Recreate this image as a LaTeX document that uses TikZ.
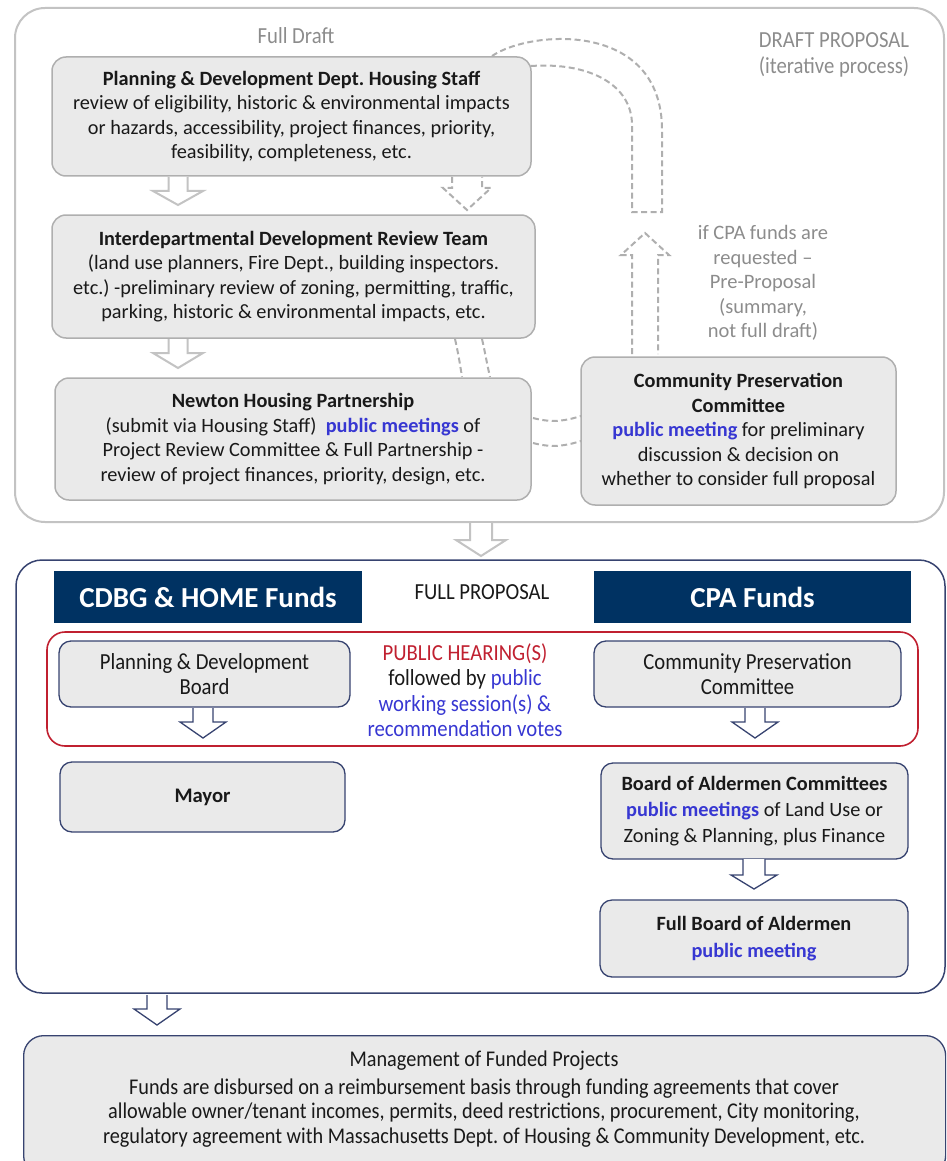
\documentclass[tikz,border=0pt]{standalone}
\usepackage{fontspec}
\setmainfont{Carlito}
\newfontfamily\cond{Carlito}[FakeStretch=0.9]
\usetikzlibrary{calc}
\frenchspacing
\definecolor{graytext}{RGB}{140,140,140}
\definecolor{boxborder}{RGB}{175,175,175}
\definecolor{boxfill}{RGB}{234,234,234}
\definecolor{framegray}{RGB}{195,195,195}
\definecolor{navy}{RGB}{0,50,98}
\definecolor{slate}{RGB}{55,67,112}
\definecolor{redline}{RGB}{192,32,48}
\definecolor{pubblue}{RGB}{55,55,210}
\definecolor{txt}{RGB}{25,25,25}
\newcommand\pub[1]{\textcolor{pubblue}{\textbf{#1}}}
\newcommand\blockarr[7]{\draw[#1] (#2-#6,#3) -- (#2-#6,#4) -- (#2-#7,#4) -- (#2,#5) -- (#2+#7,#4) -- (#2+#6,#4) -- (#2+#6,#3);}
\tikzset{
  topbox/.style={draw=boxborder, fill=boxfill, line width=1.5pt, rounded corners=14pt, align=center, inner sep=0pt, text=txt, font=\fontsize{20.3}{24.5}\selectfont},
  lowbox/.style={draw=slate, fill=boxfill, line width=1.3pt, rounded corners=12pt, align=center, inner sep=0pt, text=txt, font=\cond\fontsize{23}{24.5}\selectfont},
  hdr/.style={fill=navy, text=white, inner sep=0pt, font=\bfseries\fontsize{29}{32}\selectfont},
  grayarrow/.style={draw=framegray, fill=white, line width=2pt},
  dasharrow/.style={draw=boxborder, fill=white, line width=2pt, dash pattern=on 6pt off 3.5pt},
  dashline/.style={draw=boxborder, line width=2pt, dash pattern=on 6pt off 3.5pt},
  navyarrow/.style={draw=slate, fill=white, line width=1.3pt},
  graylabel/.style={text=graytext, align=center, font=\fontsize{20.5}{24.5}\selectfont},
}
\begin{document}
\begin{tikzpicture}[x=1pt,y=-1pt]
\useasboundingbox (0,0) rectangle (946,1161);
\clip (0,0) rectangle (946,1161);

% ---------- draft proposal frame ----------
\draw[framegray, line width=2pt, rounded corners=30pt] (15,8) rectangle (944,522);
\node[graylabel, font=\cond\fontsize{23}{26}\selectfont] (fulldraft) at (296,36) {Full Draft};
\node[graylabel, font=\cond\fontsize{23}{26}\selectfont] (draftprop) at (834,55) {DRAFT PROPOSAL\\(iterative process)};

% dashed U-shaped return arrow (drawn first, boxes over it)
\draw[dashline] (492,56) .. controls (530,30) and (662,20) .. (662,130) -- (662,212) -- (632,212) -- (632,125) .. controls (632,85) and (590,62) .. (531,66);
\draw[dashline] (455,339) .. controls (458,352) and (460,364) .. (462,377);
\draw[dashline] (482,339) .. controls (485,352) and (487,364) .. (490,377);
\draw[dashline] (533,418) .. controls (552,423) and (565,421) .. (581,416);
\draw[dashline] (533,443) .. controls (552,448) and (565,446) .. (581,441);

\node[topbox, minimum width=479pt, minimum height=119pt] (pd) at (291.5,116.5)
  {\textbf{Planning \& Development Dept. Housing Staff}\\review of eligibility, historic \& environmental impacts\\or hazards, accessibility, project finances, priority,\\feasibility, completeness, etc.};
\node[topbox, minimum width=483pt, minimum height=123pt] (idrt) at (293.5,276.5)
  {\textbf{Interdepartmental Development Review Team}\\(land use planners, Fire Dept., building inspectors.\\etc.) -preliminary review of zoning, permitting, traffic,\\parking, historic \& environmental impacts, etc.};
\node[topbox, minimum width=476pt, minimum height=122pt] (nhp) at (293,439)
  {\textbf{Newton Housing Partnership}\\(submit via Housing Staff)\ \ \pub{public meetings} of\\Project Review Committee \& Full Partnership -\\review of project finances, priority, design, etc.};
\node[topbox, minimum width=315pt, minimum height=148pt] (cpc) at (738.5,431)
  {\textbf{Community Preservation}\\\textbf{Committee}\\\pub{public meeting} for preliminary\\discussion \& decision on\\whether to consider full proposal};
\node[graylabel] (ifcpa) at (763,283) {if CPA funds are\\requested --\\Pre-Proposal\\(summary,\\not full draft)};

% arrows in draft section
\blockarr{grayarrow}{178}{177}{191}{205}{9.5}{25}
\blockarr{grayarrow}{178}{339}{353}{368}{9.5}{25}
\blockarr{dasharrow}{467}{177}{188}{210}{15}{24}
\blockarr{dasharrow}{645}{354}{255}{233}{13}{24}

% arrow between sections
\blockarr{grayarrow}{481}{523}{540}{556}{11}{25}

% ---------- full proposal frame ----------
\draw[slate, line width=1.5pt, rounded corners=26pt] (16,560) rectangle (945,993);
\node[hdr, minimum width=308pt, minimum height=52pt] (hdrA) at (208,597) {CDBG \& HOME Funds};
\node[hdr, minimum width=317pt, minimum height=52pt] (hdrB) at (752.5,597) {CPA Funds};
\node[text=txt, font=\cond\fontsize{23}{26}\selectfont] (fullprop) at (482,592) {FULL PROPOSAL};

\draw[redline, line width=1.6pt, rounded corners=18pt] (47,632) rectangle (918,746);
\node[lowbox, minimum width=291pt, minimum height=66pt] (pdb) at (204.5,674) {Planning \& Development\\Board};
\node[lowbox, minimum width=307pt, minimum height=66pt] (cpc2) at (747.5,674) {Community Preservation\\Committee};
\node[align=center, text=txt, font=\cond\fontsize{23}{25.5}\selectfont] (hearing) at (465,690)
  {\textcolor{redline}{PUBLIC HEARING(S)}\\followed by \textcolor{pubblue}{public}\\\textcolor{pubblue}{working session(s) \&}\\\textcolor{pubblue}{recommendation votes}};

\blockarr{navyarrow}{203}{708}{722}{738}{10}{23}
\blockarr{navyarrow}{755}{708}{722}{738}{10}{23}

\node[lowbox, minimum width=285pt, minimum height=70pt, font=\bfseries\fontsize{20.7}{25}\selectfont] (mayor) at (202.5,797) {Mayor};
\node[lowbox, minimum width=307pt, minimum height=96pt, font=\fontsize{20.3}{26}\selectfont] (boa) at (754.5,811)
  {\textbf{Board of Aldermen Committees}\\\pub{public meetings} of Land Use or\\Zoning \& Planning, plus Finance};
\blockarr{navyarrow}{754}{859}{875}{889}{11}{23}
\node[lowbox, minimum width=308pt, minimum height=77pt, font=\fontsize{20.3}{27}\selectfont] (fba) at (754,938.5)
  {\textbf{Full Board of Aldermen}\\\pub{public meeting}};

\blockarr{navyarrow}{157}{995}{1009}{1025}{10}{23}

% ---------- management ----------
\node[lowbox, minimum width=922pt, minimum height=140pt, anchor=north west, rounded corners=20pt] (mgmt) at (23,1035) {};
\node[align=center, text=txt, font=\cond\fontsize{22.5}{24.5}\selectfont] (mgmttext) at (484,1099)
  {Management of Funded Projects\\[3pt]Funds are disbursed on a reimbursement basis through funding agreements that cover\\allowable owner/tenant incomes, permits, deed restrictions, procurement, City monitoring,\\regulatory agreement with Massachusetts Dept. of Housing \& Community Development, etc.};
\end{tikzpicture}
\end{document}
